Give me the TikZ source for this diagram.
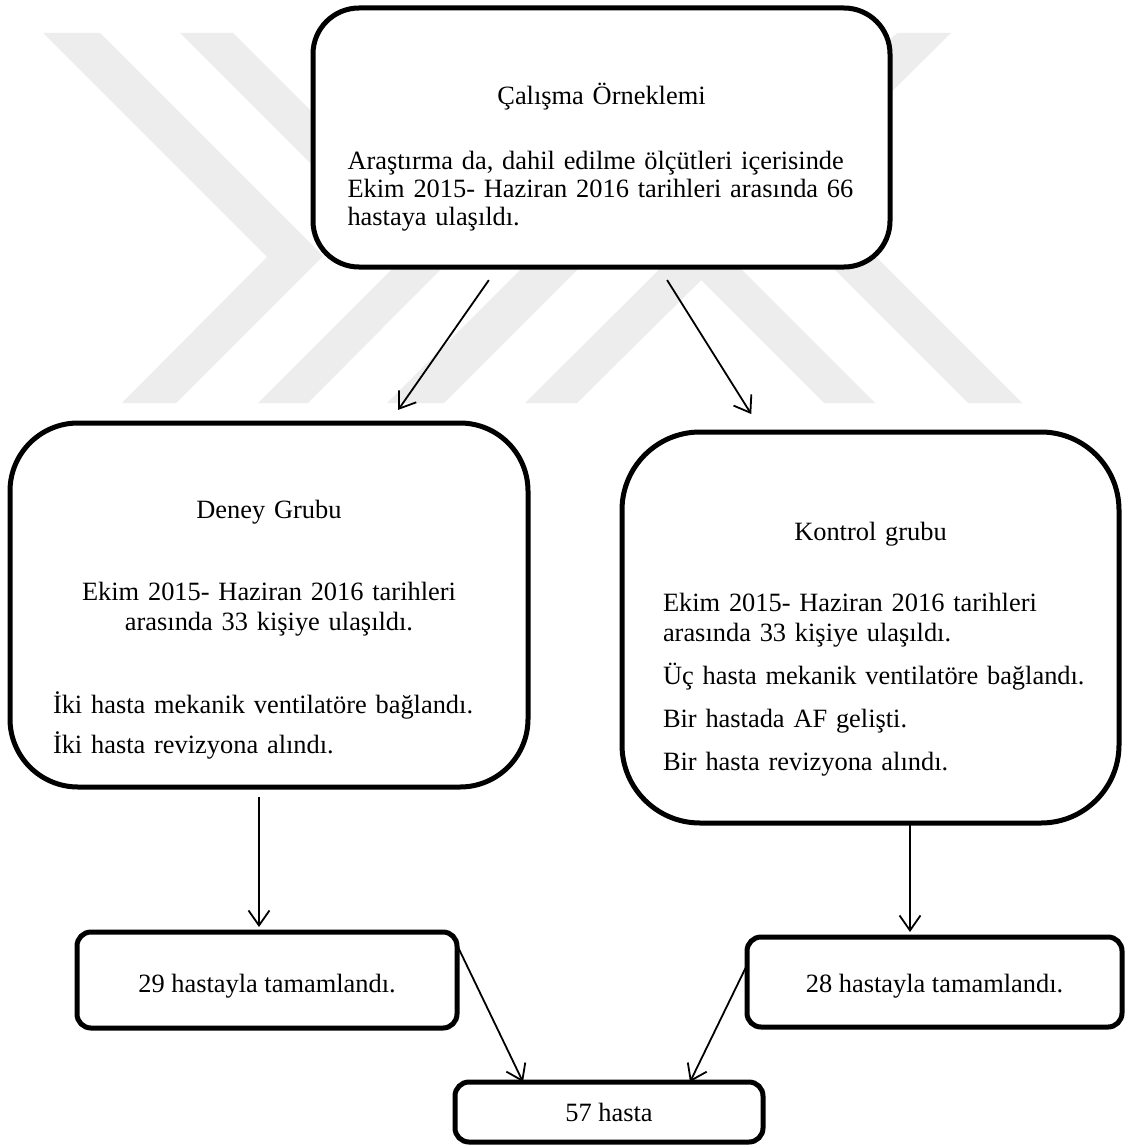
\documentclass[tikz,border=0pt]{standalone}
\usepackage{fontspec}
\setmainfont{Liberation Serif}
\usepackage{xcolor}
\usetikzlibrary{arrows.meta, positioning}
\definecolor{wmgray}{RGB}{237,237,237}

\begin{document}
\begin{tikzpicture}[x=0.5pt, y=-0.5pt,
  every node/.style={font=\fontsize{13.2}{15}\selectfont},
  bigbox/.style={draw, line width=2.5pt, fill=white, inner sep=0pt, outer sep=0pt},
  smallbox/.style={draw, line width=2.5pt, fill=white, rounded corners=7pt, inner sep=0pt, outer sep=0pt},
  arr/.style={-{Straight Barb[length=7.5pt, width=10.5pt]}, line width=0.9pt}]
  \path[use as bounding box, fill=white] (0,0) rectangle (1124,1145);
  \fill[wmgray] (43,33) -- (100,33) -- (323,256) -- (176,403) -- (122,403) -- (267,257) -- cycle;
  \fill[wmgray] (180,33) -- (233,33) -- (455,255) -- (308,403) -- (258,403) -- (404,257) -- cycle;
  \fill[wmgray] (387,403) -- (444,403) -- (814,33) -- (757,33) -- cycle;
  \fill[wmgray] (525,403) -- (577,403) -- (951,33) -- (897,33) -- cycle;
  \fill[wmgray] (824,403) -- (875,403) -- (712,240) -- (661,240) -- cycle;
  \fill[wmgray] (968,403) -- (1022,403) -- (869,250) -- (815,250) -- cycle;

  \node[bigbox, rounded corners=23pt, minimum width=288.5pt, minimum height=129.5pt, text width=254pt,
    font=\fontsize{13.2}{14}\selectfont] (sample) at (601.5,137.5)
    {{\centering\rule{0pt}{30pt}Çalışma Örneklemi\par}\vspace{18.5pt}
     Araştırma da, dahil edilme ölçütleri içerisinde\linebreak
     Ekim 2015- Haziran 2016 tarihleri arasında 66\linebreak
     hastaya ulaşıldı.};
  \node[bigbox, rounded corners=34pt, minimum width=259pt, minimum height=182pt, text width=216pt] (deney) at (269,605)
    {{\centering\rule{0pt}{33.5pt}Deney Grubu\par\vspace{26pt}
      Ekim 2015- Haziran 2016 tarihleri\par
      arasında 33 kişiye ulaşıldı.\par}\vspace{26.5pt}
     İki hasta mekanik ventilatöre bağlandı.\par\vspace{5pt}
     İki hasta revizyona alındı.};
  \node[bigbox, rounded corners=39pt, minimum width=248.5pt, minimum height=195.5pt, text width=224pt] (kontrol) at (870.5,627.5)
    {{\centering\rule{0pt}{31pt}Kontrol grubu\par}\vspace{20.5pt}
     \leftskip=8.25pt \hyphenpenalty=10000
     Ekim 2015- Haziran 2016 tarihleri\par
     arasında 33 kişiye ulaşıldı.\par\vspace{6.5pt}
     Üç hasta mekanik ventilatöre bağlandı.\par\vspace{6.5pt}
     Bir hastada AF gelişti.\par\vspace{6.5pt}
     Bir hasta revizyona alındı.\par};
  \node[smallbox, minimum width=190pt, minimum height=48pt] (done1) at (267,980) {\rule{0pt}{15pt}29 hastayla tamamlandı.};
  \node[smallbox, minimum width=187.5pt, minimum height=45pt] (done2) at (934.5,982) {\rule{0pt}{13pt}28 hastayla tamamlandı.};
  \node[smallbox, minimum width=154pt, minimum height=30pt] (total) at (609,1112) {57 hasta};

  \draw[arr, shorten <=8pt, shorten >=8pt] ([xshift=-51.75pt]sample.south) -- ([xshift=60pt]deney.north);
  \draw[arr, shorten <=7.7pt, shorten >=10.6pt] ([xshift=28.7pt]sample.south) -- ([xshift=-54pt]kontrol.north);
  \draw[arr, shorten <=5pt, shorten >=2.5pt] ([xshift=-5pt]deney.south) -- ([xshift=-5pt]deney.south |- done1.north);
  \draw[arr, shorten <=1pt, shorten >=2.5pt] ([xshift=19.75pt]kontrol.south) -- ([xshift=19.75pt]kontrol.south |- done2.north);
  \draw[arr] ([yshift=-6.5pt]done1.north east) -- ([xshift=-43pt]total.north);
  \draw[arr] ([yshift=-14pt]done2.north west) -- ([xshift=40.5pt]total.north);
\end{tikzpicture}
\end{document}
